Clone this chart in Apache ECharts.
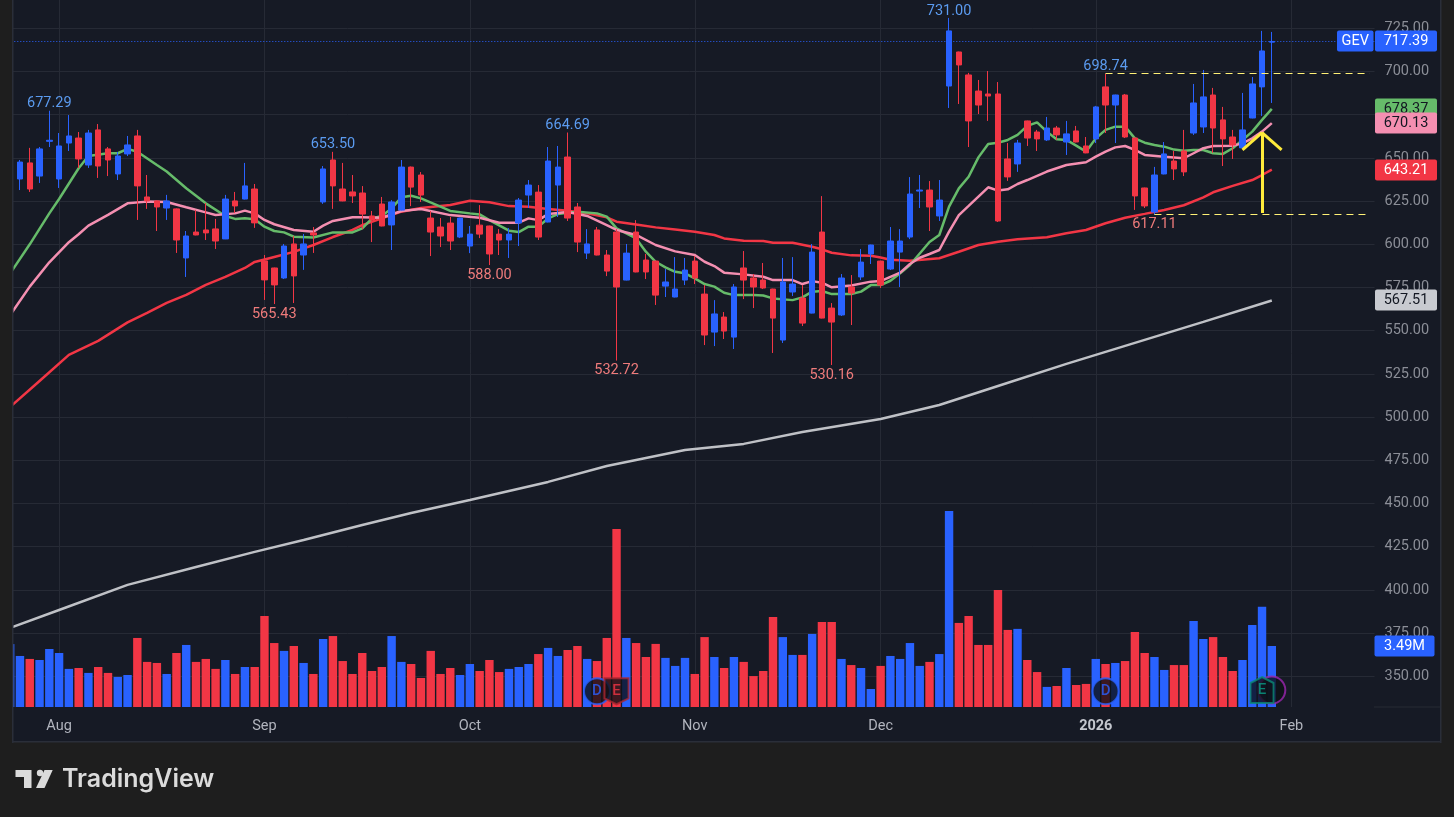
<!DOCTYPE html>
<html>
<head>
<meta charset="utf-8">
<title>GEV</title>
<script src="https://cdn.jsdelivr.net/npm/echarts@6/dist/echarts.min.js"></script>
<style>
    html, body {margin: 0; padding: 0; background: #1e1e1e;}
    #chart {width: 1454px; height: 817px;}
</style>
</head>
<body>
<div id="chart"></div>
<script>
// daily candles, Jul 25 2025 .. Jan 29 2026
let opens = [
    629.9, 637.8, 647.1, 639.5, 659.6, 637.8, 658.6, 661.5, 645.9, 666.2,
    655.2, 640.7, 652.3, 662.7, 627.4, 625.1, 621.0, 620.5, 592.1, 607.1,
    608.3, 608.9, 603.1, 625.1, 626.2, 632.0, 590.4, 586.3, 580.5, 600.2,
    593.8, 606.6, 624.5, 648.8, 632.0, 630.3, 629.7, 616.4, 623.3, 611.2,
    619.8, 644.7, 640.1, 615.2, 610.0, 612.3, 604.2, 599.0, 611.1, 610.6,
    605.9, 602.5, 612.3, 628.5, 630.2, 612.9, 634.3, 650.5, 621.6, 594.9,
    608.3, 593.8, 607.1, 579.3, 607.1, 590.9, 590.3, 575.8, 569.5, 579.3,
    590.3, 571.2, 549.2, 557.9, 546.3, 586.3, 580.5, 579.3, 574.1, 544.6,
    572.4, 568.9, 560.2, 607.1, 563.1, 559.1, 575.3, 581.1, 594.4, 590.3,
    585.7, 595.5, 604.2, 630.8, 631.4, 616.4, 691.6, 711.3, 698.0, 688.7,
    687.0, 687.0, 649.4, 646.5, 671.4, 665.0, 660.4, 667.3, 659.2, 665.6,
    656.9, 661.0, 691.1, 680.6, 686.4, 661.5, 632.6, 618.7, 640.7, 648.2,
    654.0, 664.4, 667.9, 686.4, 672.0, 662.1, 655.8, 673.1, 691.1, 717.0,
]
let closes = [
    644.9, 647.6, 632.0, 655.2, 660.2, 656.9, 662.7, 649.4, 664.4, 645.3,
    648.8, 651.1, 657.5, 633.8, 625.1, 621.6, 625.1, 602.5, 604.8, 605.4,
    606.6, 601.9, 626.2, 622.2, 633.8, 612.4, 579.4, 576.5, 599.0, 581.7,
    600.2, 605.4, 643.6, 633.8, 625.1, 628.0, 617.5, 614.0, 610.6, 624.5,
    644.7, 633.1, 628.5, 607.1, 604.8, 601.9, 615.2, 605.9, 605.9, 594.4,
    602.5, 605.9, 625.6, 634.3, 604.2, 648.2, 644.7, 615.2, 601.3, 600.2,
    593.8, 584.5, 575.3, 594.9, 584.0, 584.0, 570.6, 578.2, 574.1, 585.1,
    580.5, 547.5, 559.7, 549.8, 575.3, 579.3, 575.3, 574.7, 557.3, 578.2,
    577.0, 554.4, 595.5, 557.3, 555.0, 580.5, 571.8, 589.7, 599.6, 576.4,
    601.9, 601.9, 629.1, 631.4, 621.6, 625.6, 723.5, 703.8, 671.4, 680.6,
    685.8, 613.5, 639.0, 658.6, 661.5, 661.0, 667.3, 663.3, 663.9, 659.2,
    652.9, 679.5, 680.6, 686.4, 662.1, 628.0, 622.2, 640.1, 652.3, 643.6,
    641.9, 681.8, 685.3, 667.3, 661.0, 657.5, 666.2, 692.8, 711.9, 717.39,
]
let lows = [
    628.0, 631.4, 630.3, 635.5, 656.3, 632.6, 654.0, 644.2, 644.2, 638.4,
    639.5, 637.2, 651.1, 614.1, 620.5, 607.7, 614.1, 595.0, 581.1, 605.2,
    602.5, 597.3, 603.0, 618.1, 626.0, 609.5, 567.8, 565.43, 579.9, 566.0,
    585.2, 595.0, 623.4, 620.5, 624.9, 623.9, 608.8, 601.3, 610.4, 596.7,
    619.6, 622.1, 624.5, 593.2, 598.4, 596.7, 603.6, 594.9, 603.6, 588.0,
    593.8, 592.1, 599.0, 621.0, 602.5, 612.7, 615.8, 613.5, 595.5, 591.5,
    593.6, 581.6, 532.72, 579.1, 583.8, 579.9, 564.9, 569.5, 569.3, 576.4,
    577.0, 541.7, 541.1, 545.2, 539.4, 568.3, 563.1, 574.1, 537.1, 542.9,
    570.1, 552.7, 560.0, 557.1, 530.16, 558.5, 553.3, 579.3, 588.6, 574.7,
    585.1, 575.3, 603.0, 621.0, 607.7, 613.5, 678.9, 681.2, 656.3, 675.4,
    671.4, 612.9, 636.7, 641.9, 656.9, 654.0, 659.8, 660.4, 651.7, 659.0,
    652.7, 658.6, 664.4, 658.6, 661.5, 619.9, 621.0, 617.11, 640.5, 637.2,
    639.5, 663.3, 664.4, 652.9, 645.3, 649.4, 655.6, 672.9, 674.3, 681.8,
]
let highs = [
    646.0, 648.8, 655.8, 656.3, 677.29, 664.4, 674.8, 665.0, 666.2, 669.6,
    656.3, 653.4, 662.7, 666.2, 640.1, 625.3, 628.6, 620.8, 607.7, 619.9,
    623.9, 614.7, 628.6, 630.3, 647.1, 634.9, 593.8, 586.5, 600.2, 604.8,
    606.0, 610.0, 645.3, 653.5, 647.1, 640.1, 633.7, 619.3, 627.4, 625.6,
    648.8, 645.0, 641.8, 619.3, 615.2, 615.8, 615.4, 610.6, 622.7, 610.8,
    608.8, 609.4, 626.8, 637.2, 634.3, 656.3, 656.9, 664.69, 623.9, 608.8,
    610.0, 596.7, 608.8, 600.2, 614.0, 594.4, 590.5, 585.7, 592.6, 592.1,
    593.2, 576.4, 567.7, 560.8, 577.0, 596.1, 582.8, 589.2, 574.3, 592.1,
    592.6, 576.4, 600.2, 627.9, 566.0, 582.8, 582.2, 597.3, 599.8, 590.5,
    610.0, 608.8, 638.9, 640.1, 636.6, 637.2, 731.0, 711.5, 699.2, 695.1,
    700.3, 693.9, 658.6, 660.4, 671.6, 666.2, 673.7, 668.5, 671.4, 668.5,
    662.1, 680.1, 698.74, 686.6, 687.0, 661.7, 632.8, 644.8, 659.2, 654.0,
    666.2, 692.8, 700.9, 690.5, 679.5, 666.2, 687.6, 696.8, 723.5, 722.9,
]
// volume, millions
let volumes = [
    3.6, 2.92, 2.75, 2.69, 3.32, 3.09, 2.18, 2.23, 1.95, 2.29,
    1.95, 1.72, 1.83, 3.95, 2.58, 2.52, 1.89, 3.09, 3.55, 2.58,
    2.75, 2.18, 2.69, 1.89, 2.29, 2.29, 5.21, 3.66, 3.21, 3.49,
    2.52, 1.89, 3.89, 4.06, 2.63, 1.89, 3.09, 2.06, 2.29, 4.06,
    2.58, 2.46, 1.66, 3.21, 1.89, 2.23, 1.83, 2.46, 2.06, 2.69,
    2.0, 2.18, 2.29, 2.46, 3.03, 3.38, 2.92, 3.26, 3.49, 2.75,
    2.63, 3.95, 10.19, 3.95, 3.66, 2.86, 3.61, 2.81, 2.35, 2.81,
    1.89, 4.0, 2.86, 2.23, 2.86, 2.58, 1.77, 2.06, 5.15, 4.0,
    2.98, 2.98, 4.18, 4.87, 4.87, 2.75, 2.4, 2.23, 1.03, 2.35,
    2.92, 2.75, 3.66, 2.35, 2.58, 3.03, 11.22, 4.81, 5.21, 3.55,
    3.55, 6.7, 4.41, 4.47, 2.69, 2.0, 1.15, 1.2, 2.23, 1.26,
    1.32, 2.75, 2.46, 2.52, 2.63, 4.29, 3.09, 2.86, 2.12, 2.4,
    2.4, 4.92, 3.89, 4.0, 2.86, 2.06, 2.69, 4.69, 5.73, 3.49,
]

// moving averages, [bar index, value]
let maGreen = [
    [0, 583.2], [2, 600.0], [4, 617.9], [5, 626.2], [7, 644.0], [8, 651.1], [10, 652.7], [11, 652.7], [12, 655.2],
    [13, 653.6], [15, 645.9], [16, 642.1], [18, 632.4], [20, 623.7], [22, 616.4], [23, 614.7], [24, 615.1], [25, 614.5],
    [26, 610.2], [27, 607.7], [28, 606.9], [29, 604.4], [31, 603.9], [33, 606.9], [35, 606.9], [36, 609.2], [37, 615.0],
    [38, 616.4], [39, 620.8], [40, 627.2], [41, 628.1], [42, 626.6], [44, 621.8], [45, 619.3], [47, 617.9], [48, 617.3],
    [49, 614.0], [51, 607.9], [52, 607.1], [53, 610.2], [54, 610.2], [55, 615.0], [56, 617.5], [57, 618.3], [58, 618.9],
    [60, 617.9], [61, 616.0], [62, 609.2], [64, 603.4], [65, 595.7], [66, 589.9], [67, 586.7], [68, 584.1], [69, 583.2],
    [70, 580.3], [71, 577.0], [72, 575.5], [73, 572.0], [74, 570.6], [76, 570.6], [77, 570.4], [78, 568.7], [80, 567.7],
    [81, 569.3], [82, 572.6], [83, 573.0], [84, 571.2], [86, 571.2], [87, 572.6], [88, 576.4], [89, 576.4], [90, 578.9],
    [91, 583.2], [92, 588.0], [93, 594.7], [94, 601.3], [95, 605.4], [96, 621.8], [97, 632.4], [98, 639.1], [99, 650.3],
    [100, 658.1], [101, 658.8], [102, 660.4], [103, 663.3], [104, 668.5], [105, 670.6], [106, 665.2], [107, 660.8],
    [108, 660.4], [109, 657.1], [110, 653.6], [111, 661.3], [112, 666.2], [113, 668.1], [114, 668.1], [115, 661.3],
    [116, 658.8], [117, 657.5], [118, 656.5], [119, 654.8], [120, 654.2], [121, 654.6], [122, 654.6], [123, 652.7],
    [124, 652.3], [125, 655.6], [126, 660.4], [127, 665.2], [128, 672.0], [129, 678.37],
]
let maPink = [
    [0, 559.1], [2, 575.5], [4, 589.6], [6, 601.2], [7, 605.8], [8, 610.8], [10, 617.0], [12, 623.7], [14, 624.7],
    [16, 624.5], [18, 621.4], [20, 618.5], [21, 617.0], [23, 617.9], [24, 619.5], [25, 617.9], [26, 614.1], [27, 611.6],
    [29, 608.3], [31, 607.3], [32, 610.8], [33, 613.5], [35, 615.6], [36, 615.6], [38, 615.4], [40, 619.3], [42, 620.4],
    [45, 616.9], [48, 615.4], [50, 612.5], [52, 612.5], [53, 615.0], [54, 614.0], [55, 617.5], [57, 618.7], [59, 616.4],
    [61, 611.1], [62, 608.3], [64, 605.4], [66, 599.6], [68, 595.9], [70, 593.8], [71, 589.9], [72, 587.4], [73, 583.6],
    [75, 582.6], [77, 581.2], [78, 579.3], [80, 579.3], [81, 577.0], [82, 578.7], [83, 577.8], [84, 575.1], [86, 576.2],
    [88, 578.4], [89, 578.7], [90, 581.2], [91, 583.6], [92, 588.6], [93, 592.2], [94, 594.4], [95, 596.7], [96, 607.3],
    [97, 616.9], [98, 622.2], [99, 627.6], [100, 633.0], [101, 631.1], [102, 631.8], [103, 634.9], [104, 637.2],
    [106, 642.1], [108, 645.9], [110, 647.5], [111, 650.7], [112, 653.6], [113, 656.1], [114, 656.9], [115, 654.6],
    [116, 651.7], [118, 650.7], [120, 649.8], [121, 652.7], [122, 655.6], [123, 656.9], [125, 657.1], [126, 658.4],
    [127, 661.3], [128, 665.2], [129, 670.13],
]
let maRed = [
    [0, 505.9], [3, 520.9], [6, 536.0], [9, 544.1], [12, 554.8], [14, 560.3], [16, 566.1], [18, 570.7], [20, 576.5],
    [22, 581.1], [24, 586.3], [25, 589.8], [27, 592.7], [29, 595.6], [31, 599.6], [33, 604.2], [35, 608.3], [36, 611.1],
    [38, 615.0], [40, 618.9], [42, 621.0], [45, 622.7], [47, 625.2], [49, 624.3], [51, 622.1], [53, 621.8], [55, 620.4],
    [57, 619.4], [59, 617.9], [61, 615.6], [62, 613.1], [64, 611.5], [66, 609.8], [68, 608.6], [70, 607.3], [72, 605.4],
    [73, 603.4], [75, 602.1], [77, 601.9], [78, 600.9], [80, 600.9], [82, 598.6], [83, 597.1], [84, 595.1], [86, 593.6],
    [88, 593.4], [89, 592.4], [90, 591.1], [92, 590.5], [95, 591.9], [97, 595.7], [99, 599.6], [101, 601.5], [103, 602.9],
    [106, 604.1], [108, 606.4], [110, 608.3], [112, 612.2], [114, 615.4], [116, 617.6], [118, 619.9], [120, 622.6],
    [122, 627.2], [123, 630.1], [125, 633.8], [127, 637.2], [128, 640.1], [129, 643.21],
]
let maGrey = [
    [0, 378.0], [5, 388.4], [12, 402.9], [19, 413.3], [25, 422.0], [30, 428.9], [36, 437.6], [41, 444.5], [47, 452.0],
    [55, 462.5], [61, 471.7], [69, 481.0], [75, 484.5], [81, 491.4], [89, 498.9], [95, 507.0], [101, 518.0], [108, 530.8],
    [114, 541.2], [122, 555.1], [129, 567.51],
]

let priceTicks = [350, 375, 400, 425, 450, 475, 500, 525, 550, 575, 600, 625, 650, 675, 700, 725]
let timeTicks = {5: 'Aug', 26: 'Sep', 47: 'Oct', 70: 'Nov', 89: 'Dec', 111: '2026', 131: 'Feb'}

// labels at the swing highs and lows: [bar index, value]
let swingHighs = [[4, 677.29], [33, 653.50], [57, 664.69], [96, 731.00], [112, 698.74]]
let swingLows = [[27, 565.43], [49, 588.00], [62, 532.72], [84, 530.16], [117, 617.11]]

let lastPrice = 717.39
let lastVolume = 3.49
let maLast = {green: 678.37, pink: 670.13, red: 643.21, grey: 567.51}

const BLUE = '#2962ff'
const RED = '#f23645'
const GREEN = '#66bb6a'
const PINK = '#f48fb1'
const GREY = '#bfc1c6'
const YELLOW = '#ffeb3b'
const BG = '#161a25'
const GRID = '#262a35'
const FONT = 'Roboto, "Noto Sans", sans-serif'

let categories = []
for (let i = 0; i < 140; i++) {
    categories.push(String(i))
}

let candles = opens.map((o, i) => [o, closes[i], lows[i], highs[i]])
let volumeBars = volumes.map((v, i) => ({
    value: v,
    itemStyle: {color: closes[i] >= opens[i] ? BLUE : RED},
}))

function maSeries(data, color) {
    return {
        type: 'line',
        data: data,
        showSymbol: false,
        silent: true,
        z: 2,
        lineStyle: {color: color, width: 2.5},
    }
}

function swingMark(item, color, dy) {
    return {
        coord: item,
        symbol: 'circle',
        symbolSize: 1,
        itemStyle: {color: 'transparent'},
        label: {
            show: true,
            position: 'inside',
            offset: [0, dy],
            formatter: item[1].toFixed(2),
            color: color,
            fontFamily: FONT,
            fontSize: 14.5,
        },
    }
}

function segment(x1, y1, x2, y2, style) {
    return [{coord: [x1, y1], lineStyle: style}, {coord: [x2, y2]}]
}

let dashStyle = {color: '#fff176', width: 1, type: [7, 5]}
let arrowStyle = {color: YELLOW, width: 3, type: 'solid'}

function eventMark(i, y, text, symbol, size, border, textColor) {
    return {
        value: [i, y],
        symbol: symbol,
        symbolSize: size,
        itemStyle: {color: '#0e1117', borderColor: border, borderWidth: 2},
        label: {
            show: true, position: 'inside', formatter: text, color: textColor,
            fontFamily: FONT, fontSize: 15, fontWeight: 500,
        },
    }
}

const SHIELD = 'path://M0 0H10V8.5L5 11L0 8.5Z'
const HOUSE = 'path://M5 0L10 2.5V11H0V2.5Z'

let events = [
    eventMark(129, 0.97, '', 'circle', 27, '#9c27b0', '#9c27b0'),
    eventMark(60, 0.9, 'D', 'circle', 26, BLUE, BLUE),
    eventMark(62, 0.9, 'E', SHIELD, [24, 26], '#a8262f', RED),
    eventMark(112, 0.9, 'D', 'circle', 26, BLUE, BLUE),
    eventMark(128, 0.97, 'E', HOUSE, [23, 26], '#0b8a75', '#0b9e86'),
]

let option = {
    backgroundColor: '#1e1e1e',
    animation: false,
    grid: {left: 5.3, width: 1369.2, top: 0, height: 707},
    xAxis: {
        type: 'category',
        data: categories,
        boundaryGap: true,
        axisLine: {show: false},
        axisTick: {show: false},
        splitLine: {
            show: true,
            alignWithLabel: true,
            interval: (index) => timeTicks[index] != null,
            lineStyle: {color: GRID, width: 1},
        },
        axisLabel: {
            interval: (index) => timeTicks[index] != null,
            formatter: (value) => {
                let text = timeTicks[value]
                return text === '2026' ? '{b|2026}' : text
            },
            rich: {b: {fontWeight: 'bold', fontSize: 14.5, color: '#c4c7ce', fontFamily: FONT}},
            color: '#b2b5be',
            fontFamily: FONT,
            fontSize: 14.5,
            margin: 12,
        },
    },
    yAxis: [
        {
            type: 'value',
            position: 'right',
            min: 332.24,
            max: 741.38,
            axisLine: {show: false},
            axisTick: {show: false, customValues: priceTicks},
            splitLine: {show: true, lineStyle: {color: GRID, width: 1}},
            axisLabel: {
                customValues: priceTicks,
                formatter: (v) => v.toFixed(2),
                color: '#8b8e97',
                fontFamily: FONT,
                fontSize: 14.5,
                margin: 10,
                padding: [7, 0, 0, 0],
            },
        },
        {
            type: 'value',
            min: 0,
            max: 40.45,
            show: false,
        },
    ],
    series: [
        {
            type: 'bar',
            yAxisIndex: 1,
            data: volumeBars,
            barWidth: 8.4,
            silent: true,
            z: 1,
        },
        maSeries(maGrey, GREY),
        maSeries(maRed, RED),
        maSeries(maGreen, GREEN),
        maSeries(maPink, PINK),
        {
            type: 'candlestick',
            data: candles,
            barWidth: 6,
            silent: true,
            z: 3,
            itemStyle: {color: BLUE, color0: RED, borderColor: BLUE, borderColor0: RED, borderWidth: 1},
            markPoint: {
                silent: true,
                data: swingHighs.map((it) => swingMark(it, '#5b9bf0', -7))
                    .concat(swingLows.map((it) => swingMark(it, '#ef7b7b', 10))),
            },
            markLine: {
                silent: true,
                symbol: ['none', 'none'],
                label: {show: false},
                data: [
                    {yAxis: lastPrice, lineStyle: {color: BLUE, width: 1, type: [1, 2]}},
                    segment(112, 698.74, 139, 698.74, dashStyle),
                    segment(117, 617.11, 139, 617.11, dashStyle),
                    segment(128, 618.1, 128, 664.6, arrowStyle),
                    segment(126, 654.6, 128, 664.6, arrowStyle),
                    segment(128, 664.6, 130, 654.6, arrowStyle),
                ],
            },
        },
        {
            type: 'scatter',
            yAxisIndex: 1,
            data: events,
            silent: true,
            z: 6,
        },
    ],
}

let chart = echarts.init(document.getElementById('chart'))
chart.setOption(option)

// right hand tags sit on the axis scale
function tagEls(y, x, width, text, fill, color, z) {
    let top = Math.round(y) - 10.5
    return [
        {
            type: 'rect',
            z: z,
            silent: true,
            shape: {x: x, y: top, width: width, height: 21, r: 2},
            style: {fill: fill},
        },
        {
            type: 'text',
            z: z,
            silent: true,
            style: {
                x: x + width / 2, y: top + 11, text: text, fill: color,
                font: '14.5px ' + FONT, align: 'center', verticalAlign: 'middle',
            },
        },
    ]
}

function priceTag(value, x, width, text, fill, color, z) {
    return tagEls(chart.convertToPixel({yAxisIndex: 0}, value), x, width, text, fill, color, z)
}

function frame(x, y, width, height, fill, z) {
    return {type: 'rect', z: z, silent: true, shape: {x: x, y: y, width: width, height: height}, style: {fill: fill}}
}

chart.setOption({
    graphic: [
        frame(12, 0, 1429, 742, BG, -1),
        frame(1374, 706.5, 66, 1, GRID, 1),
        // covers what sticks out of the pane on the left
        frame(0, 0, 12, 817, '#1e1e1e', 40),
        frame(12, 0, 1.5, 743, '#2a2e39', 40),
        frame(12, 741, 1429, 1.5, '#2a2e39', 40),
        frame(1440, 0, 1.5, 743, '#2a2e39', 40),
        ...priceTag(lastPrice, 1337, 36.5, 'GEV', BLUE, '#ffffff', 50),
        ...priceTag(lastPrice, 1375, 62, lastPrice.toFixed(2), BLUE, '#ffffff', 50),
        ...priceTag(maLast.green, 1375, 62, maLast.green.toFixed(2), GREEN, '#131722', 50),
        ...priceTag(maLast.pink, 1375, 62, maLast.pink.toFixed(2), PINK, '#131722', 51),
        ...priceTag(maLast.red, 1375, 62, maLast.red.toFixed(2), RED, '#ffffff', 50),
        ...priceTag(maLast.grey, 1375, 62, maLast.grey.toFixed(2), '#c8cad0', '#131722', 50),
        ...tagEls(chart.convertToPixel({yAxisIndex: 1}, lastVolume), 1374.5, 60, lastVolume.toFixed(2) + 'M', BLUE, '#ffffff', 50),
        // TradingView mark
        {
            type: 'group',
            z: 50,
            children: [
                {type: 'polygon', shape: {points: [[15.5, 770], [31.5, 770], [31.5, 788], [24, 788], [24, 777], [15.5, 777]]}, style: {fill: '#dbdbdb'}},
                {type: 'circle', shape: {cx: 40, cy: 773, r: 3.2}, style: {fill: '#dbdbdb'}},
                {type: 'polygon', shape: {points: [[44.5, 770], [52.7, 770], [44.5, 788], [36, 788]]}, style: {fill: '#dbdbdb'}},
                {type: 'text', style: {x: 62, y: 779, text: 'TradingView', fill: '#dbdbdb', font: '600 25px Inter, Lato, sans-serif', textVerticalAlign: 'middle'}},
            ],
        },
    ],
})
</script>
</body>
</html>
